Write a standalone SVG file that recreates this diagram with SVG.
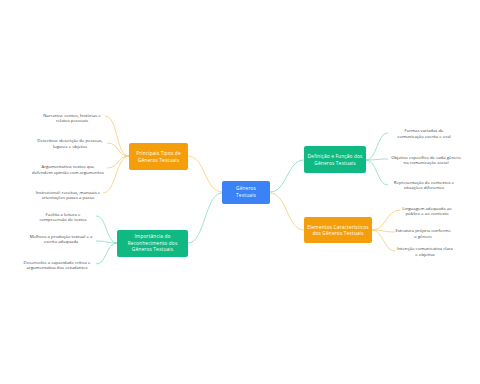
<svg xmlns="http://www.w3.org/2000/svg" width="480" height="384" viewBox="0 0 480 384">
<style>
.box{stroke:none}
.bt{font-family:"Open Sans","Noto Sans",sans-serif;font-size:4.8px;fill:#ffffff;text-anchor:middle;letter-spacing:0.15px}
.lt{font-family:"Open Sans","Noto Sans",sans-serif;font-size:4.3px;fill:#444444;text-anchor:middle}
.co{fill:none;stroke:#f9cd6e;stroke-width:0.8}
.cg{fill:none;stroke:#84dcc2;stroke-width:0.8}
</style>
<rect width="480" height="384" fill="#ffffff"/>
<g id="connectors">
<path class="co" d="M222,192 C205,192 205,156 188,156"/>
<path class="cg" d="M222,193 C205,193 205,243 188,243"/>
<path class="cg" d="M270,192 C287,192 287,160 304,160"/>
<path class="co" d="M270,193 C287,193 287,230 304,230"/>
<path class="co" d="M129,156 C116,156 118,116 105,116"/>
<path class="co" d="M129,156 C116,156 120,143 107,143"/>
<path class="co" d="M129,156 C116,156 120,168 107,168"/>
<path class="co" d="M129,156 C116,156 116,193 103,193"/>
<path class="cg" d="M117,243 C106,243 107,216 96,216"/>
<path class="cg" d="M117,243 C106,243 107,241 96,241"/>
<path class="cg" d="M117,243 C106,243 107,264 96,264"/>
<path class="cg" d="M366,160 C377,160 377,133 388,133"/>
<path class="cg" d="M366,160 C377,160 377,159 388,159"/>
<path class="cg" d="M366,160 C377,160 377,185 388,185"/>
<path class="co" d="M372,230 C386,230 386,210 400,210"/>
<path class="co" d="M372,230 C383,230 384,232 395,232"/>
<path class="co" d="M372,230 C383,230 384,251 395,251"/>
</g>
<g id="center">
<rect class="box" x="222" y="181" width="48" height="23" rx="2" fill="#3b82f6"/>
<text class="bt" x="246" y="189.5">Gêneros</text>
<text class="bt" x="246" y="197">Textuais</text>
</g>
<g id="tipos">
<rect class="box" x="129" y="143" width="59" height="27" rx="2" fill="#f59e0b"/>
<text class="bt" x="158.5" y="155">Principais Tipos de</text>
<text class="bt" x="158.5" y="161.5">Gêneros Textuais</text>
</g>
<g id="importancia">
<rect class="box" x="117" y="230" width="71" height="27" rx="2" fill="#10b981"/>
<text class="bt" x="152.5" y="238">Importância do</text>
<text class="bt" x="152.5" y="244.5">Reconhecimento dos</text>
<text class="bt" x="152.5" y="251">Gêneros Textuais</text>
</g>
<g id="definicao">
<rect class="box" x="304" y="146" width="62" height="27" rx="2" fill="#10b981"/>
<text class="bt" x="335" y="158">Definição e Função dos</text>
<text class="bt" x="335" y="164.5">Gêneros Textuais</text>
</g>
<g id="elementos">
<rect class="box" x="304" y="217" width="68" height="26" rx="2" fill="#f59e0b"/>
<text class="bt" x="338" y="228.5">Elementos Característicos</text>
<text class="bt" x="338" y="235">dos Gêneros Textuais</text>
</g>
<g id="leaf-narrativa">
<text class="lt" x="72" y="116.5">Narrativa: contos, histórias e</text>
<text class="lt" x="72" y="122">relatos pessoais</text>
</g>
<g id="leaf-descritiva">
<text class="lt" x="70" y="142">Descritiva: descrição de pessoas,</text>
<text class="lt" x="70" y="147.5">lugares e objetos</text>
</g>
<g id="leaf-argumentativa">
<text class="lt" x="68" y="168">Argumentativa: textos que</text>
<text class="lt" x="68" y="173.5">defendem opinião com argumentos</text>
</g>
<g id="leaf-instrucional">
<text class="lt" x="68" y="193.5">Instrucional: receitas, manuais e</text>
<text class="lt" x="68" y="199">orientações passo a passo</text>
</g>
<g id="leaf-facilita">
<text class="lt" x="63" y="215.5">Facilita a leitura e</text>
<text class="lt" x="63" y="221">compreensão de textos</text>
</g>
<g id="leaf-melhora">
<text class="lt" x="61" y="237.5">Melhora a produção textual e a</text>
<text class="lt" x="61" y="243">escrita adequada</text>
</g>
<g id="leaf-desenvolve">
<text class="lt" x="57" y="263.5">Desenvolve a capacidade crítica e</text>
<text class="lt" x="57" y="269">argumentativa dos estudantes</text>
</g>
<g id="leaf-formas">
<text class="lt" x="424" y="132">Formas variadas de</text>
<text class="lt" x="424" y="137.5">comunicação escrita e oral</text>
</g>
<g id="leaf-objetivo">
<text class="lt" x="426" y="158.5">Objetivo específico de cada gênero</text>
<text class="lt" x="426" y="164">na comunicação social</text>
</g>
<g id="leaf-representacao">
<text class="lt" x="424" y="183.5">Representação de contextos e</text>
<text class="lt" x="424" y="189">situações diferentes</text>
</g>
<g id="leaf-linguagem">
<text class="lt" x="427" y="209.5">Linguagem adequada ao</text>
<text class="lt" x="427" y="215">público e ao contexto</text>
</g>
<g id="leaf-estrutura">
<text class="lt" x="423" y="232">Estrutura própria conforme</text>
<text class="lt" x="423" y="237.5">o gênero</text>
</g>
<g id="leaf-intencao">
<text class="lt" x="425" y="250">Intenção comunicativa clara</text>
<text class="lt" x="425" y="255.5">e objetiva</text>
</g>
</svg>
